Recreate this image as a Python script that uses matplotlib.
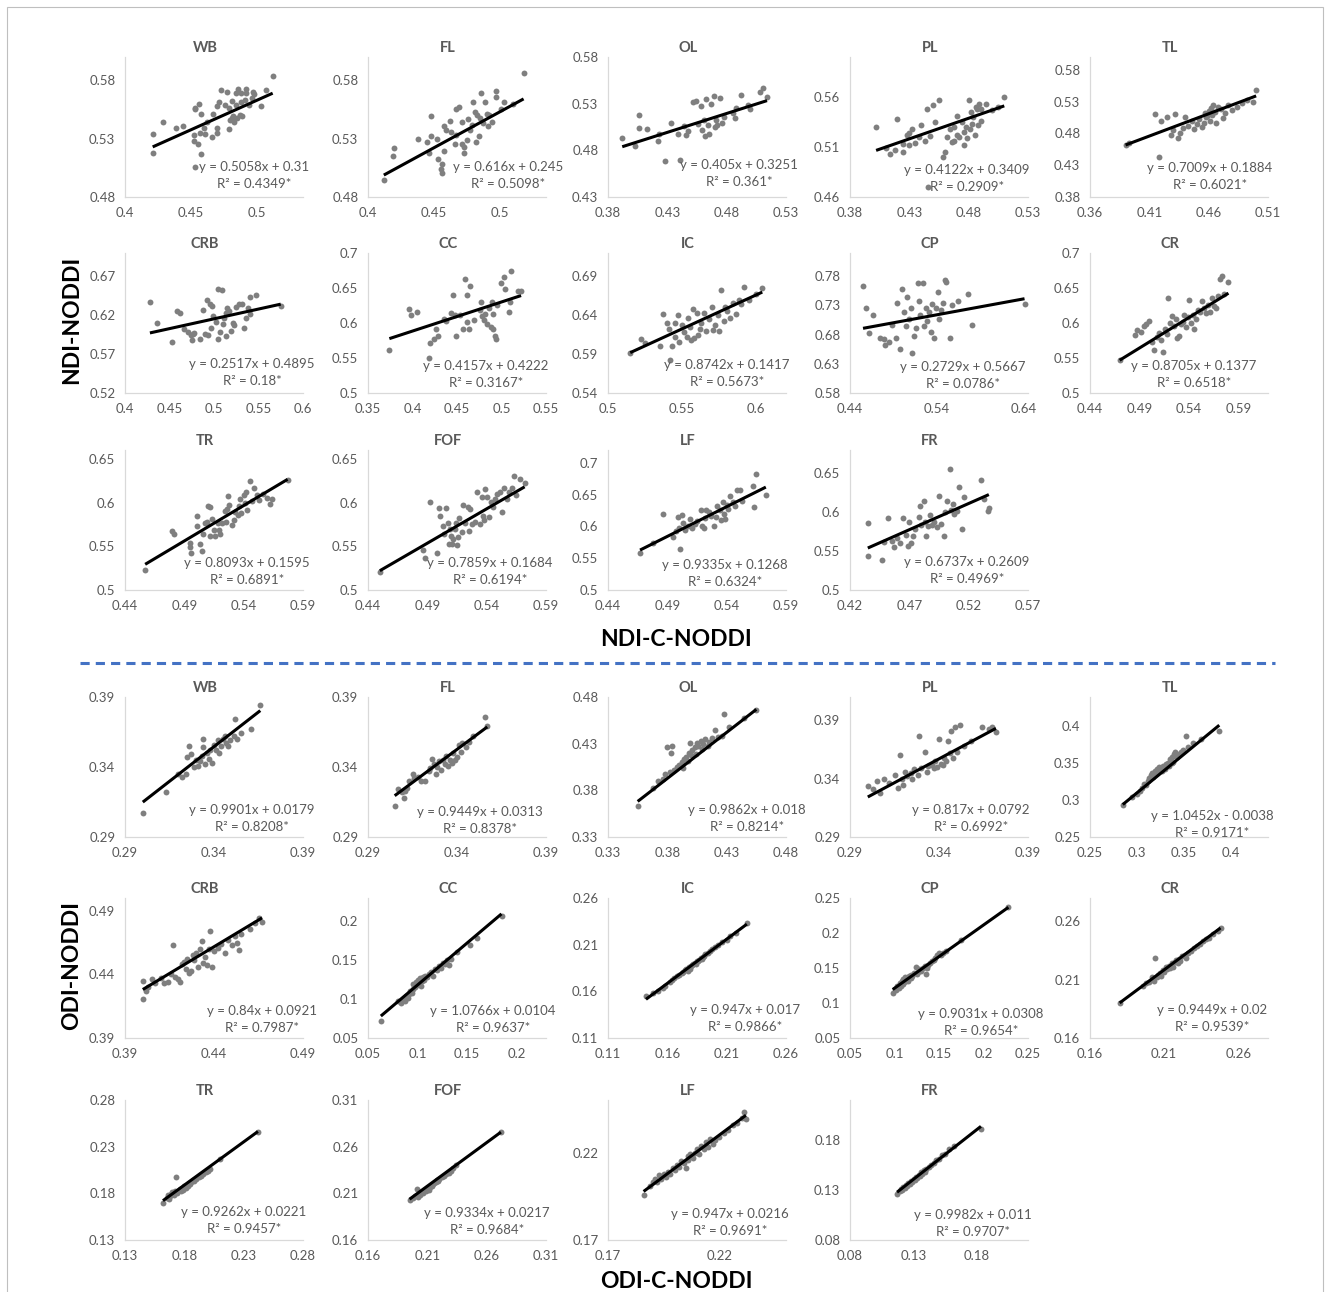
import numpy as np
import matplotlib
matplotlib.use("Agg")
import matplotlib.pyplot as plt
from matplotlib.lines import Line2D
from matplotlib.patches import Rectangle

regiones = ["WB", "FL", "OL", "PL", "TL", "CRB", "CC", "IC", "CP", "CR", "TR", "FOF", "LF", "FR"]

# ajustes lineales NDI
ndi_pend = [0.5058, 0.616, 0.405, 0.4122, 0.7009, 0.2517, 0.4157, 0.8742, 0.2729, 0.8705, 0.8093, 0.7859, 0.9335, 0.6737]
ndi_ord = [0.31, 0.245, 0.3251, 0.3409, 0.1884, 0.4895, 0.4222, 0.1417, 0.5667, 0.1377, 0.1595, 0.1684, 0.1268, 0.2609]
ndi_r2 = [0.4349, 0.5098, 0.361, 0.2909, 0.6021, 0.18, 0.3167, 0.5673, 0.0786, 0.6518, 0.6891, 0.6194, 0.6324, 0.4969]

# ajustes lineales ODI
odi_pend = [0.9901, 0.9449, 0.9862, 0.817, 1.0452, 0.84, 1.0766, 0.947, 0.9031, 0.9449, 0.9262, 0.9334, 0.947, 0.9982]
odi_ord = [0.0179, 0.0313, 0.018, 0.0792, -0.0038, 0.0921, 0.0104, 0.017, 0.0308, 0.02, 0.0221, 0.0217, 0.0216, 0.011]
odi_r2 = [0.8208, 0.8378, 0.8214, 0.6992, 0.9171, 0.7987, 0.9637, 0.9866, 0.9654, 0.9539, 0.9457, 0.9684, 0.9691, 0.9707]

# ejes (min, max, paso)
ndi_ejex = [(0.4, 0.535, 0.05), (0.4, 0.535, 0.05), (0.38, 0.53, 0.05), (0.38, 0.53, 0.05), (0.36, 0.51, 0.05),
            (0.4, 0.6, 0.05), (0.35, 0.55, 0.05), (0.5, 0.62, 0.05), (0.44, 0.645, 0.1), (0.44, 0.62, 0.05),
            (0.44, 0.59, 0.05), (0.44, 0.59, 0.05), (0.44, 0.59, 0.05), (0.42, 0.57, 0.05)]
ndi_ejey = [(0.48, 0.6, 0.05), (0.48, 0.6, 0.05), (0.43, 0.58, 0.05), (0.46, 0.6, 0.05), (0.38, 0.6, 0.05),
            (0.52, 0.7, 0.05), (0.5, 0.7, 0.05), (0.54, 0.72, 0.05), (0.58, 0.82, 0.05), (0.5, 0.7, 0.05),
            (0.5, 0.66, 0.05), (0.5, 0.66, 0.05), (0.5, 0.72, 0.05), (0.5, 0.68, 0.05)]
odi_ejex = [(0.29, 0.39, 0.05), (0.29, 0.39, 0.05), (0.33, 0.48, 0.05), (0.29, 0.39, 0.05), (0.25, 0.44, 0.05),
            (0.39, 0.49, 0.05), (0.05, 0.23, 0.05), (0.11, 0.26, 0.05), (0.05, 0.25, 0.05), (0.16, 0.28, 0.05),
            (0.13, 0.28, 0.05), (0.16, 0.31, 0.05), (0.17, 0.25, 0.05), (0.08, 0.22, 0.05)]
odi_ejey = [(0.29, 0.39, 0.05), (0.29, 0.39, 0.05), (0.33, 0.48, 0.05), (0.29, 0.41, 0.05), (0.25, 0.44, 0.05),
            (0.39, 0.5, 0.05), (0.05, 0.23, 0.05), (0.11, 0.26, 0.05), (0.05, 0.25, 0.05), (0.16, 0.28, 0.05),
            (0.13, 0.28, 0.05), (0.16, 0.31, 0.05), (0.17, 0.25, 0.05), (0.08, 0.22, 0.05)]

# puntos (C-NODDI, NODDI) por region - NDI
ndi_wb = [(0.421,0.534),(0.421,0.518),(0.429,0.544),(0.439,0.539),(0.444,0.541),(0.452,0.528),(0.452,0.533),(0.453,0.556),(0.453,0.555),(0.456,0.560),(0.458,0.551),(0.458,0.517),(0.455,0.525),(0.457,0.535),(0.460,0.539),(0.461,0.534),(0.462,0.544),(0.466,0.531),(0.467,0.551),(0.470,0.539),(0.470,0.535),(0.470,0.558),(0.471,0.561),(0.473,0.572),(0.476,0.559),(0.477,0.570),(0.479,0.538),(0.479,0.556),(0.480,0.546),(0.481,0.548),(0.481,0.562),(0.482,0.549),(0.483,0.544),(0.484,0.569),(0.484,0.559),(0.485,0.548),(0.486,0.573),(0.487,0.550),(0.488,0.561),(0.488,0.569),(0.489,0.549),(0.491,0.563),(0.492,0.573),(0.492,0.569),(0.494,0.559),(0.496,0.565),(0.497,0.570),(0.498,0.568),(0.503,0.558),(0.507,0.572),(0.512,0.584),(0.453,0.506)]
ndi_fl = [(0.412,0.495),(0.420,0.522),(0.419,0.515),(0.438,0.530),(0.445,0.527),(0.446,0.518),(0.448,0.549),(0.448,0.532),(0.452,0.530),(0.453,0.513),(0.455,0.504),(0.456,0.501),(0.458,0.519),(0.458,0.541),(0.459,0.537),(0.462,0.545),(0.463,0.536),(0.466,0.525),(0.467,0.533),(0.467,0.555),(0.469,0.557),(0.471,0.544),(0.471,0.525),(0.473,0.518),(0.473,0.523),(0.475,0.529),(0.476,0.547),(0.477,0.537),(0.479,0.542),(0.480,0.561),(0.481,0.553),(0.482,0.527),(0.483,0.550),(0.484,0.532),(0.485,0.548),(0.486,0.569),(0.487,0.543),(0.489,0.561),(0.490,0.551),(0.491,0.541),(0.492,0.550),(0.494,0.544),(0.497,0.571),(0.497,0.566),(0.501,0.555),(0.503,0.561),(0.510,0.560),(0.518,0.586),(0.456,0.508)]
ndi_ol = [(0.392,0.493),(0.403,0.485),(0.406,0.518),(0.406,0.504),(0.413,0.503),(0.422,0.490),(0.423,0.497),(0.428,0.469),(0.433,0.509),(0.439,0.498),(0.441,0.470),(0.444,0.506),(0.446,0.496),(0.447,0.501),(0.452,0.532),(0.454,0.533),(0.456,0.508),(0.458,0.527),(0.459,0.502),(0.461,0.512),(0.462,0.495),(0.463,0.535),(0.464,0.507),(0.465,0.497),(0.467,0.530),(0.469,0.538),(0.470,0.505),(0.471,0.513),(0.472,0.507),(0.474,0.536),(0.476,0.509),(0.478,0.516),(0.485,0.520),(0.487,0.515),(0.488,0.525),(0.492,0.539),(0.498,0.529),(0.500,0.524),(0.508,0.543),(0.511,0.547),(0.514,0.537)]
ndi_pl = [(0.402,0.530),(0.410,0.509),(0.414,0.503),(0.418,0.507),(0.420,0.538),(0.425,0.505),(0.428,0.522),(0.430,0.512),(0.432,0.528),(0.435,0.514),(0.438,0.520),(0.440,0.532),(0.443,0.516),(0.445,0.548),(0.447,0.521),(0.450,0.552),(0.452,0.535),(0.455,0.557),(0.458,0.500),(0.460,0.505),(0.462,0.520),(0.464,0.528),(0.466,0.515),(0.468,0.530),(0.470,0.541),(0.472,0.520),(0.474,0.535),(0.476,0.525),(0.478,0.530),(0.480,0.557),(0.482,0.545),(0.484,0.540),(0.486,0.550),(0.488,0.532),(0.490,0.548),(0.495,0.553),(0.500,0.547),(0.505,0.550),(0.510,0.560),(0.446,0.470),(0.476,0.512),(0.479,0.519),(0.481,0.528),(0.483,0.533),(0.485,0.522),(0.487,0.548),(0.489,0.553),(0.490,0.536),(0.430,0.524),(0.425,0.513),(0.468,0.516),(0.470,0.522)]
ndi_tl = [(0.390,0.462),(0.393,0.465),(0.415,0.511),(0.418,0.443),(0.420,0.499),(0.425,0.505),(0.428,0.478),(0.430,0.485),(0.432,0.510),(0.434,0.472),(0.436,0.481),(0.438,0.488),(0.440,0.505),(0.443,0.492),(0.446,0.500),(0.448,0.487),(0.450,0.495),(0.452,0.503),(0.454,0.490),(0.456,0.497),(0.457,0.512),(0.458,0.505),(0.460,0.515),(0.461,0.500),(0.462,0.520),(0.463,0.509),(0.465,0.513),(0.466,0.496),(0.468,0.522),(0.470,0.518),(0.472,0.504),(0.474,0.512),(0.476,0.525),(0.480,0.517),(0.484,0.521),(0.488,0.528),(0.492,0.532),(0.497,0.530),(0.500,0.548),(0.459,0.508),(0.464,0.524)]
ndi_crb = [(0.428,0.637),(0.436,0.610),(0.453,0.586),(0.458,0.626),(0.462,0.623),(0.466,0.602),(0.471,0.598),(0.474,0.594),(0.475,0.588),(0.476,0.596),(0.478,0.597),(0.484,0.590),(0.488,0.627),(0.490,0.596),(0.492,0.639),(0.493,0.594),(0.496,0.635),(0.497,0.604),(0.498,0.632),(0.499,0.619),(0.502,0.611),(0.504,0.654),(0.504,0.590),(0.507,0.598),(0.509,0.652),(0.510,0.609),(0.511,0.616),(0.514,0.593),(0.514,0.623),(0.515,0.629),(0.517,0.626),(0.519,0.600),(0.521,0.610),(0.523,0.608),(0.525,0.631),(0.528,0.635),(0.532,0.635),(0.534,0.604),(0.536,0.617),(0.538,0.629),(0.540,0.644),(0.541,0.621),(0.547,0.646),(0.575,0.632)]
ndi_cc = [(0.374,0.562),(0.396,0.620),(0.398,0.611),(0.405,0.615),(0.418,0.550),(0.420,0.571),(0.424,0.577),(0.426,0.592),(0.429,0.582),(0.435,0.605),(0.438,0.603),(0.443,0.614),(0.445,0.640),(0.448,0.611),(0.449,0.582),(0.453,0.611),(0.457,0.592),(0.459,0.663),(0.461,0.601),(0.461,0.640),(0.464,0.592),(0.465,0.653),(0.469,0.604),(0.476,0.619),(0.477,0.630),(0.478,0.610),(0.480,0.604),(0.482,0.613),(0.484,0.598),(0.486,0.621),(0.488,0.594),(0.489,0.630),(0.490,0.613),(0.491,0.591),(0.493,0.582),(0.494,0.577),(0.495,0.626),(0.500,0.657),(0.503,0.665),(0.504,0.648),(0.508,0.615),(0.509,0.630),(0.511,0.674),(0.519,0.646),(0.522,0.646)]
ndi_ic = [(0.515,0.592),(0.522,0.610),(0.525,0.604),(0.535,0.600),(0.537,0.641),(0.540,0.630),(0.541,0.622),(0.543,0.601),(0.545,0.630),(0.545,0.612),(0.547,0.640),(0.548,0.606),(0.550,0.628),(0.551,0.618),(0.553,0.612),(0.554,0.637),(0.555,0.625),(0.556,0.608),(0.557,0.648),(0.558,0.611),(0.560,0.643),(0.561,0.615),(0.562,0.622),(0.563,0.630),(0.565,0.643),(0.566,0.620),(0.568,0.635),(0.570,0.650),(0.571,0.621),(0.572,0.628),(0.574,0.640),(0.575,0.620),(0.576,0.673),(0.578,0.632),(0.579,0.651),(0.580,0.645),(0.582,0.637),(0.584,0.656),(0.586,0.641),(0.588,0.660),(0.590,0.655),(0.592,0.676),(0.595,0.660),(0.600,0.667),(0.604,0.675),(0.542,0.583)]
ndi_cp = [(0.455,0.763),(0.459,0.725),(0.462,0.682),(0.467,0.713),(0.475,0.675),(0.479,0.672),(0.480,0.663),(0.485,0.668),(0.488,0.697),(0.493,0.675),(0.494,0.735),(0.498,0.656),(0.500,0.759),(0.502,0.718),(0.504,0.695),(0.506,0.744),(0.508,0.706),(0.510,0.725),(0.511,0.648),(0.514,0.678),(0.516,0.691),(0.518,0.769),(0.519,0.738),(0.521,0.713),(0.524,0.769),(0.525,0.695),(0.527,0.725),(0.529,0.704),(0.531,0.718),(0.533,0.685),(0.535,0.732),(0.537,0.675),(0.539,0.725),(0.541,0.753),(0.542,0.706),(0.545,0.722),(0.547,0.735),(0.549,0.774),(0.551,0.770),(0.555,0.675),(0.558,0.730),(0.564,0.738),(0.576,0.749),(0.580,0.696),(0.641,0.733)]
ndi_cr = [(0.470,0.547),(0.485,0.583),(0.488,0.590),(0.492,0.587),(0.495,0.595),(0.497,0.599),(0.500,0.603),(0.503,0.573),(0.505,0.562),(0.508,0.580),(0.510,0.585),(0.512,0.576),(0.514,0.558),(0.516,0.592),(0.518,0.584),(0.519,0.635),(0.521,0.600),(0.523,0.610),(0.525,0.596),(0.527,0.605),(0.528,0.578),(0.530,0.581),(0.532,0.598),(0.534,0.602),(0.535,0.611),(0.537,0.594),(0.539,0.608),(0.540,0.633),(0.542,0.600),(0.544,0.612),(0.545,0.592),(0.547,0.606),(0.549,0.618),(0.551,0.615),(0.553,0.632),(0.555,0.622),(0.557,0.614),(0.559,0.626),(0.561,0.615),(0.563,0.636),(0.565,0.624),(0.567,0.621),(0.569,0.638),(0.571,0.663),(0.573,0.667),(0.576,0.641),(0.580,0.659)]
ndi_tr = [(0.457,0.523),(0.480,0.567),(0.481,0.564),(0.495,0.554),(0.495,0.549),(0.496,0.542),(0.501,0.585),(0.501,0.573),(0.503,0.552),(0.505,0.545),(0.506,0.564),(0.507,0.576),(0.509,0.578),(0.510,0.596),(0.512,0.595),(0.512,0.562),(0.513,0.581),(0.515,0.569),(0.516,0.562),(0.518,0.576),(0.519,0.568),(0.520,0.564),(0.522,0.577),(0.524,0.590),(0.525,0.578),(0.526,0.593),(0.527,0.607),(0.528,0.597),(0.530,0.574),(0.532,0.580),(0.533,0.589),(0.535,0.586),(0.536,0.596),(0.537,0.604),(0.538,0.588),(0.540,0.609),(0.541,0.599),(0.542,0.612),(0.543,0.591),(0.545,0.625),(0.547,0.602),(0.549,0.616),(0.551,0.608),(0.553,0.603),(0.556,0.610),(0.560,0.605),(0.562,0.598),(0.564,0.604),(0.577,0.626)]
ndi_fof = [(0.450,0.520),(0.486,0.546),(0.488,0.536),(0.492,0.601),(0.498,0.542),(0.500,0.594),(0.501,0.585),(0.503,0.573),(0.504,0.564),(0.506,0.594),(0.507,0.577),(0.508,0.552),(0.509,0.570),(0.510,0.562),(0.511,0.552),(0.512,0.558),(0.513,0.570),(0.514,0.576),(0.515,0.551),(0.516,0.560),(0.517,0.582),(0.519,0.566),(0.520,0.597),(0.522,0.577),(0.524,0.595),(0.525,0.567),(0.526,0.593),(0.528,0.575),(0.530,0.578),(0.532,0.612),(0.534,0.575),(0.536,0.606),(0.537,0.584),(0.538,0.580),(0.539,0.615),(0.540,0.606),(0.542,0.583),(0.544,0.600),(0.545,0.595),(0.547,0.604),(0.549,0.610),(0.551,0.612),(0.553,0.589),(0.555,0.616),(0.557,0.604),(0.559,0.612),(0.561,0.617),(0.563,0.630),(0.565,0.608),(0.568,0.627),(0.572,0.622)]
ndi_lf = [(0.467,0.558),(0.478,0.574),(0.486,0.619),(0.495,0.583),(0.497,0.592),(0.499,0.614),(0.500,0.598),(0.501,0.565),(0.502,0.618),(0.503,0.605),(0.505,0.594),(0.507,0.600),(0.509,0.611),(0.511,0.597),(0.513,0.603),(0.515,0.608),(0.518,0.625),(0.519,0.600),(0.521,0.597),(0.522,0.613),(0.523,0.626),(0.525,0.622),(0.527,0.616),(0.529,0.600),(0.531,0.615),(0.532,0.632),(0.534,0.625),(0.535,0.610),(0.537,0.638),(0.538,0.620),(0.539,0.612),(0.540,0.633),(0.541,0.627),(0.543,0.647),(0.545,0.638),(0.547,0.632),(0.549,0.657),(0.551,0.657),(0.553,0.640),(0.562,0.663),(0.563,0.630),(0.565,0.683),(0.573,0.650)]
ndi_fr = [(0.435,0.586),(0.435,0.544),(0.447,0.539),(0.449,0.562),(0.452,0.592),(0.455,0.563),(0.457,0.555),(0.460,0.567),(0.462,0.560),(0.465,0.592),(0.467,0.571),(0.469,0.556),(0.470,0.588),(0.471,0.560),(0.473,0.569),(0.475,0.579),(0.478,0.594),(0.479,0.608),(0.480,0.584),(0.482,0.615),(0.483,0.587),(0.484,0.570),(0.486,0.582),(0.487,0.597),(0.489,0.583),(0.491,0.588),(0.493,0.581),(0.495,0.621),(0.497,0.585),(0.499,0.569),(0.500,0.600),(0.502,0.614),(0.504,0.655),(0.505,0.603),(0.507,0.610),(0.508,0.598),(0.510,0.601),(0.512,0.633),(0.514,0.578),(0.516,0.620),(0.530,0.641),(0.533,0.617),(0.536,0.601),(0.537,0.606)]

# puntos (C-NODDI, NODDI) por region - ODI
odi_wb = [(0.300,0.307),(0.313,0.322),(0.320,0.335),(0.322,0.333),(0.324,0.335),(0.325,0.347),(0.326,0.355),(0.327,0.349),(0.329,0.340),(0.330,0.345),(0.331,0.341),(0.332,0.344),(0.333,0.348),(0.334,0.360),(0.334,0.354),(0.335,0.342),(0.336,0.350),(0.337,0.346),(0.338,0.352),(0.339,0.343),(0.340,0.356),(0.341,0.352),(0.342,0.359),(0.343,0.350),(0.344,0.355),(0.345,0.360),(0.346,0.362),(0.347,0.357),(0.348,0.355),(0.349,0.359),(0.351,0.362),(0.352,0.374),(0.353,0.360),(0.355,0.364),(0.361,0.367),(0.366,0.384)]
odi_fl = [(0.305,0.312),(0.307,0.324),(0.309,0.322),(0.310,0.318),(0.311,0.323),(0.312,0.325),(0.313,0.330),(0.315,0.335),(0.316,0.332),(0.318,0.333),(0.320,0.330),(0.322,0.330),(0.324,0.337),(0.325,0.339),(0.326,0.346),(0.327,0.342),(0.328,0.335),(0.329,0.340),(0.330,0.344),(0.331,0.338),(0.332,0.345),(0.333,0.342),(0.334,0.348),(0.335,0.341),(0.336,0.345),(0.337,0.343),(0.338,0.350),(0.339,0.345),(0.340,0.347),(0.341,0.356),(0.342,0.351),(0.343,0.357),(0.345,0.354),(0.347,0.358),(0.349,0.362),(0.356,0.376),(0.357,0.369)]
odi_ol = [(0.355,0.363),(0.368,0.383),(0.372,0.390),(0.376,0.392),(0.378,0.398),(0.380,0.426),(0.382,0.400),(0.383,0.420),(0.384,0.428),(0.386,0.402),(0.388,0.405),(0.390,0.407),(0.392,0.410),(0.393,0.404),(0.394,0.414),(0.396,0.416),(0.397,0.411),(0.398,0.420),(0.399,0.431),(0.400,0.418),(0.401,0.423),(0.403,0.426),(0.404,0.419),(0.405,0.431),(0.406,0.428),(0.408,0.433),(0.409,0.424),(0.410,0.430),(0.412,0.435),(0.414,0.428),(0.415,0.432),(0.418,0.436),(0.420,0.445),(0.423,0.437),(0.426,0.438),(0.428,0.462),(0.432,0.448),(0.445,0.458),(0.455,0.466)]
odi_pl = [(0.300,0.334),(0.303,0.331),(0.305,0.338),(0.307,0.328),(0.309,0.340),(0.312,0.336),(0.315,0.343),(0.317,0.332),(0.318,0.360),(0.319,0.340),(0.320,0.335),(0.321,0.346),(0.322,0.342),(0.324,0.345),(0.325,0.340),(0.326,0.348),(0.328,0.343),(0.329,0.377),(0.330,0.349),(0.332,0.363),(0.333,0.346),(0.334,0.351),(0.336,0.352),(0.337,0.349),(0.338,0.355),(0.339,0.350),(0.340,0.374),(0.341,0.353),(0.342,0.352),(0.343,0.358),(0.344,0.355),(0.345,0.372),(0.346,0.362),(0.347,0.381),(0.348,0.358),(0.349,0.384),(0.350,0.363),(0.352,0.386),(0.354,0.368),(0.358,0.372),(0.364,0.384),(0.368,0.383),(0.370,0.384),(0.372,0.380)]
odi_tl = [(0.285,0.293),(0.295,0.304),(0.300,0.309),(0.303,0.313),(0.305,0.317),(0.308,0.322),(0.310,0.320),(0.312,0.326),(0.313,0.330),(0.315,0.334),(0.316,0.337),(0.317,0.331),(0.318,0.335),(0.319,0.340),(0.320,0.336),(0.321,0.342),(0.322,0.338),(0.323,0.339),(0.324,0.345),(0.325,0.341),(0.326,0.343),(0.327,0.339),(0.328,0.346),(0.329,0.345),(0.330,0.342),(0.331,0.349),(0.332,0.346),(0.333,0.350),(0.334,0.347),(0.335,0.356),(0.336,0.353),(0.337,0.350),(0.338,0.358),(0.339,0.352),(0.340,0.362),(0.341,0.365),(0.343,0.358),(0.345,0.362),(0.347,0.365),(0.349,0.368),(0.352,0.387),(0.355,0.372),(0.360,0.377),(0.368,0.383),(0.388,0.394)]
odi_crb = [(0.400,0.435),(0.400,0.421),(0.402,0.427),(0.403,0.430),(0.405,0.436),(0.407,0.433),(0.410,0.437),(0.412,0.433),(0.414,0.434),(0.416,0.440),(0.417,0.463),(0.418,0.438),(0.420,0.436),(0.421,0.434),(0.422,0.448),(0.423,0.450),(0.424,0.444),(0.425,0.452),(0.426,0.441),(0.427,0.443),(0.428,0.455),(0.429,0.451),(0.430,0.457),(0.431,0.446),(0.432,0.460),(0.433,0.466),(0.434,0.449),(0.435,0.454),(0.436,0.447),(0.437,0.460),(0.438,0.474),(0.439,0.446),(0.440,0.458),(0.442,0.461),(0.444,0.464),(0.446,0.457),(0.448,0.467),(0.450,0.463),(0.452,0.470),(0.453,0.465),(0.454,0.459),(0.455,0.472),(0.460,0.476),(0.463,0.480),(0.465,0.484),(0.467,0.481)]
odi_cc = [(0.063,0.072),(0.080,0.097),(0.083,0.095),(0.085,0.100),(0.087,0.098),(0.088,0.104),(0.090,0.101),(0.091,0.106),(0.092,0.110),(0.094,0.108),(0.095,0.113),(0.096,0.119),(0.098,0.115),(0.099,0.122),(0.100,0.118),(0.101,0.125),(0.102,0.120),(0.103,0.127),(0.104,0.117),(0.105,0.123),(0.106,0.128),(0.107,0.125),(0.108,0.130),(0.110,0.128),(0.112,0.132),(0.114,0.135),(0.116,0.130),(0.118,0.139),(0.120,0.137),(0.122,0.143),(0.124,0.140),(0.126,0.147),(0.128,0.145),(0.130,0.150),(0.132,0.144),(0.134,0.152),(0.140,0.160),(0.153,0.170),(0.160,0.178),(0.185,0.207)]
odi_ic = [(0.142,0.155),(0.148,0.158),(0.152,0.160),(0.156,0.164),(0.158,0.166),(0.162,0.170),(0.164,0.172),(0.166,0.174),(0.168,0.176),(0.170,0.177),(0.172,0.180),(0.173,0.181),(0.175,0.183),(0.176,0.184),(0.177,0.182),(0.178,0.186),(0.179,0.184),(0.180,0.187),(0.181,0.188),(0.182,0.189),(0.183,0.190),(0.184,0.189),(0.185,0.192),(0.186,0.193),(0.187,0.194),(0.188,0.196),(0.189,0.195),(0.190,0.197),(0.191,0.198),(0.192,0.200),(0.194,0.201),(0.196,0.203),(0.198,0.205),(0.200,0.207),(0.203,0.210),(0.206,0.213),(0.210,0.215),(0.213,0.219),(0.218,0.223),(0.227,0.233)]
odi_cp = [(0.098,0.114),(0.100,0.120),(0.102,0.118),(0.103,0.124),(0.105,0.122),(0.106,0.128),(0.107,0.125),(0.108,0.131),(0.109,0.127),(0.110,0.134),(0.111,0.130),(0.112,0.137),(0.113,0.132),(0.114,0.135),(0.115,0.131),(0.116,0.138),(0.118,0.136),(0.119,0.140),(0.120,0.138),(0.122,0.143),(0.124,0.152),(0.125,0.141),(0.126,0.145),(0.128,0.149),(0.130,0.146),(0.132,0.150),(0.134,0.153),(0.135,0.141),(0.136,0.150),(0.138,0.155),(0.140,0.157),(0.142,0.160),(0.144,0.162),(0.146,0.165),(0.148,0.169),(0.150,0.172),(0.152,0.168),(0.155,0.171),(0.158,0.174),(0.175,0.190),(0.228,0.237)]
odi_cr = [(0.180,0.190),(0.196,0.205),(0.198,0.207),(0.200,0.208),(0.202,0.212),(0.203,0.209),(0.204,0.229),(0.205,0.212),(0.206,0.214),(0.207,0.216),(0.208,0.213),(0.209,0.218),(0.210,0.217),(0.211,0.221),(0.212,0.219),(0.213,0.222),(0.214,0.220),(0.215,0.224),(0.216,0.221),(0.217,0.225),(0.218,0.227),(0.219,0.224),(0.220,0.228),(0.221,0.226),(0.222,0.230),(0.224,0.231),(0.225,0.229),(0.226,0.233),(0.228,0.235),(0.230,0.237),(0.232,0.239),(0.234,0.241),(0.236,0.243),(0.238,0.245),(0.240,0.246),(0.243,0.249),(0.246,0.252),(0.248,0.254)]
odi_tr = [(0.162,0.170),(0.165,0.175),(0.166,0.178),(0.167,0.174),(0.168,0.177),(0.169,0.179),(0.170,0.181),(0.171,0.178),(0.172,0.182),(0.173,0.198),(0.174,0.180),(0.175,0.183),(0.176,0.185),(0.177,0.182),(0.178,0.186),(0.179,0.184),(0.180,0.188),(0.181,0.186),(0.182,0.189),(0.183,0.188),(0.184,0.191),(0.185,0.190),(0.186,0.192),(0.187,0.194),(0.188,0.193),(0.190,0.195),(0.192,0.197),(0.194,0.199),(0.196,0.201),(0.198,0.203),(0.200,0.204),(0.202,0.206),(0.210,0.217),(0.242,0.246)]
odi_fof = [(0.195,0.203),(0.198,0.205),(0.200,0.207),(0.201,0.215),(0.202,0.206),(0.203,0.209),(0.204,0.208),(0.205,0.211),(0.206,0.210),(0.207,0.212),(0.208,0.214),(0.209,0.213),(0.210,0.216),(0.211,0.214),(0.212,0.217),(0.213,0.219),(0.214,0.218),(0.215,0.220),(0.216,0.221),(0.217,0.222),(0.218,0.224),(0.219,0.223),(0.220,0.225),(0.222,0.227),(0.224,0.229),(0.226,0.231),(0.228,0.232),(0.230,0.234),(0.232,0.237),(0.234,0.240),(0.272,0.276)]
odi_lf = [(0.186,0.196),(0.189,0.201),(0.190,0.203),(0.191,0.205),(0.192,0.203),(0.193,0.207),(0.194,0.205),(0.195,0.208),(0.196,0.206),(0.197,0.209),(0.198,0.208),(0.199,0.211),(0.200,0.210),(0.201,0.213),(0.202,0.212),(0.203,0.215),(0.204,0.214),(0.205,0.211),(0.206,0.218),(0.206,0.216),(0.207,0.219),(0.208,0.217),(0.209,0.220),(0.210,0.222),(0.211,0.219),(0.212,0.224),(0.213,0.222),(0.214,0.226),(0.215,0.223),(0.216,0.228),(0.217,0.225),(0.218,0.227),(0.220,0.229),(0.222,0.231),(0.224,0.233),(0.226,0.236),(0.228,0.237),(0.230,0.240),(0.231,0.243),(0.232,0.239)]
odi_fr = [(0.117,0.126),(0.119,0.129),(0.120,0.131),(0.121,0.130),(0.122,0.133),(0.123,0.132),(0.124,0.135),(0.125,0.134),(0.126,0.137),(0.127,0.136),(0.128,0.139),(0.129,0.138),(0.130,0.141),(0.131,0.140),(0.132,0.143),(0.133,0.142),(0.134,0.145),(0.135,0.144),(0.136,0.148),(0.137,0.146),(0.138,0.150),(0.139,0.148),(0.140,0.151),(0.142,0.153),(0.144,0.155),(0.146,0.157),(0.148,0.160),(0.150,0.161),(0.152,0.165),(0.155,0.166),(0.158,0.171),(0.162,0.174),(0.183,0.191)]

ndi_puntos = [ndi_wb, ndi_fl, ndi_ol, ndi_pl, ndi_tl, ndi_crb, ndi_cc, ndi_ic, ndi_cp, ndi_cr, ndi_tr, ndi_fof, ndi_lf, ndi_fr]
odi_puntos = [odi_wb, odi_fl, odi_ol, odi_pl, odi_tl, odi_crb, odi_cc, odi_ic, odi_cp, odi_cr, odi_tr, odi_fof, odi_lf, odi_fr]

# --- maquetacion en pixeles ---
W, H = 1330, 1292
AX_W, AX_H = 178, 140
col_izq = [125, 368, 608, 850, 1090]
fila_sup_ndi = [57, 253, 450]
fila_sup_odi = [697, 898, 1100]

# centro de la etiqueta de la ecuacion (x, y de la primera linea)
ndi_eq_pos = [(254, 167), (508, 167), (739, 165), (967, 170), (1210, 168),
              (252, 364), (486, 366), (727, 365), (963, 367), (1194, 366),
              (247, 563), (490, 563), (725, 565), (967, 562)]
odi_eq_pos = [(252, 810), (480, 812), (747, 810), (971, 810), (1212, 816),
              (262, 1011), (493, 1011), (745, 1010), (981, 1014), (1212, 1010),
              (244, 1212), (487, 1213), (730, 1214), (973, 1215)]

GRIS = "#595959"
plt.rcParams['font.family'] = ['Lato', 'DejaVu Sans']

fig = plt.figure(figsize=(W / 100, H / 100), dpi=100)


def fx(px):
    return px / W


def fy(py):
    return 1 - py / H


def ticks(eje):
    return np.round(np.arange(eje[0], eje[1] + 1e-6, eje[2]), 3)


def dibujar_panel(izq, sup, puntos, ejex, ejey, m, b, r2, nombre, eq_pos):
    ax = fig.add_axes([fx(izq), fy(sup + AX_H), AX_W / W, AX_H / H])
    xs, ys = np.array(puntos).T
    ax.scatter(xs, ys, s=18, color="#7f7f7f", linewidths=0, zorder=2, clip_on=False)
    xl = np.array([xs.min(), xs.max()])
    ax.plot(xl, m * xl + b, color="black", lw=2.2, zorder=3, solid_capstyle="butt")

    ax.set_xlim(ejex[0], ejex[1])
    ax.set_ylim(ejey[0], ejey[1])
    xt, yt = ticks(ejex), ticks(ejey)
    ax.set_xticks(xt)
    ax.set_xticklabels([f"{v:g}" for v in xt])
    ax.set_yticks(yt)
    ax.set_yticklabels([f"{v:g}" for v in yt])
    ax.tick_params(length=0, labelsize=9.5, colors=GRIS, pad=7)
    for lado in ["top", "right"]:
        ax.spines[lado].set_visible(False)
    for lado in ["left", "bottom"]:
        ax.spines[lado].set_color("#d9d9d9")
        ax.spines[lado].set_linewidth(0.9)
    ax.patch.set_alpha(0)

    fig.text(fx(izq + 80), fy(sup - 9), nombre, ha="center", va="center",
             fontsize=10.5, color=GRIS, weight="bold")
    signo = "+" if b >= 0 else "-"
    cx, cy = eq_pos
    fig.text(fx(cx), fy(cy), f"y = {m:g}x {signo} {abs(b):g}", ha="center", va="center",
             fontsize=9.5, color=GRIS)
    fig.text(fx(cx), fy(cy + 17), f"R\u00b2 = {r2:g}*", ha="center", va="center",
             fontsize=9.5, color=GRIS)


for i in range(len(regiones)):
    fila, col = divmod(i, 5)
    dibujar_panel(col_izq[col], fila_sup_ndi[fila], ndi_puntos[i], ndi_ejex[i], ndi_ejey[i],
                  ndi_pend[i], ndi_ord[i], ndi_r2[i], regiones[i], ndi_eq_pos[i])
    dibujar_panel(col_izq[col], fila_sup_odi[fila], odi_puntos[i], odi_ejex[i], odi_ejey[i],
                  odi_pend[i], odi_ord[i], odi_r2[i], regiones[i], odi_eq_pos[i])

# titulos de ejes
fig.text(fx(72), fy(320), "NDI-NODDI", rotation=90, ha="center", va="center",
         fontsize=16.5, weight="bold", color="black")
fig.text(fx(72), fy(965), "ODI-NODDI", rotation=90, ha="center", va="center",
         fontsize=16.5, weight="bold", color="black")
fig.text(fx(676), fy(640), "NDI-C-NODDI", ha="center", va="center",
         fontsize=16.5, weight="bold", color="black")
fig.text(fx(676), fy(1281), "ODI-C-NODDI", ha="center", va="center",
         fontsize=16.5, weight="bold", color="black")

# separador entre NDI y ODI
fig.add_artist(Line2D([fx(80), fx(1275)], [fy(663), fy(663)], color="#4472c4",
                      lw=2.2, ls=(0, (3, 2))))
# marco exterior
fig.add_artist(Rectangle((fx(7), -0.02), fx(1323) - fx(7), fy(7) + 0.02, fill=False,
                         edgecolor="#bfbfbf", lw=0.8, transform=fig.transFigure))

fig.savefig("out.png", dpi=100)
